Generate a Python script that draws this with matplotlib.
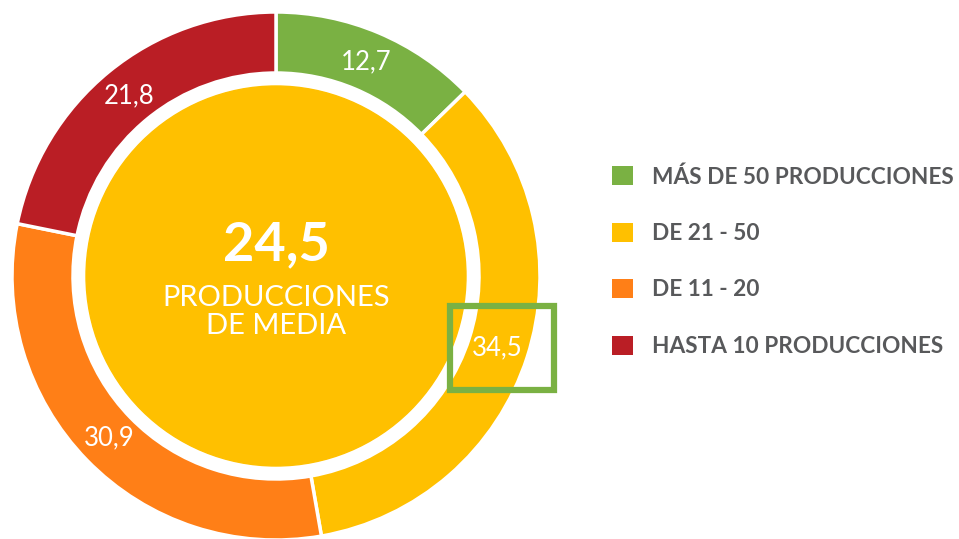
import matplotlib.pyplot as plt
from matplotlib.patches import Circle, Rectangle, Patch

# datos del gráfico
categorias = ['MÁS DE 50 PRODUCCIONES', 'DE 21 - 50', 'DE 11 - 20', 'HASTA 10 PRODUCCIONES']
valores = [12.7, 34.5, 30.9, 21.8]
colores = ['#7AB143', '#FFC000', '#FF7F17', '#BA1E25']
media = 24.5
texto_media = 'PRODUCCIONES\nDE MEDIA'
destacado = 1  # índice del valor recuadrado

W, H = 959, 539
fig = plt.figure(figsize=(W / 100, H / 100), dpi=100)
ax = fig.add_axes([0, 0, 1, 1])

cx, cy = 276, H - 276
R = 264

etiquetas = [f'{v:.1f}'.replace('.', ',') for v in valores]
wedges, texts = ax.pie(valores, colors=colores, startangle=90, counterclock=False,
                       radius=R, center=(cx, cy), labels=etiquetas, labeldistance=0.88,
                       wedgeprops=dict(width=61, edgecolor='white', linewidth=2.5),
                       textprops=dict(color='white', fontsize=18.5, family='Lato',
                                      fontweight='normal'))
for t in texts:
    t.set_ha('center')
    t.set_va('center')

# círculo central
ax.add_patch(Circle((cx, cy), 190, color='#FFC000', zorder=3))
ax.text(cx, cy + 31, f'{media:.1f}'.replace('.', ','), ha='center', va='center',
        color='white', fontsize=39, family='Lato', fontweight='bold', zorder=4)
ax.text(cx, cy - 36, texto_media, ha='center', va='center', color='white',
        fontsize=21, family='Lato', fontweight='normal', linespacing=1.1, zorder=4)

# recuadro verde alrededor del valor destacado
tx, ty = texts[destacado].get_position()
ax.add_patch(Rectangle((tx - 47, ty - 42), 104, 84, fill=False, edgecolor='#7AB143',
                       linewidth=4.5, zorder=5))

handles = [Patch(facecolor=c, edgecolor='none') for c in colores]
leg = ax.legend(handles, categorias, loc='upper left', bbox_to_anchor=(603 / W, 1 - 157 / H),
                frameon=False, handlelength=0.92, handleheight=0.92, handletextpad=0.85,
                labelspacing=1.55, borderaxespad=0,
                prop=dict(family='Lato', weight='bold', size=16.3))
for t in leg.get_texts():
    t.set_color('#58595B')

ax.set_xlim(0, W)
ax.set_ylim(0, H)
ax.set_aspect('equal')
ax.axis('off')

fig.savefig('out.png', dpi=100)
